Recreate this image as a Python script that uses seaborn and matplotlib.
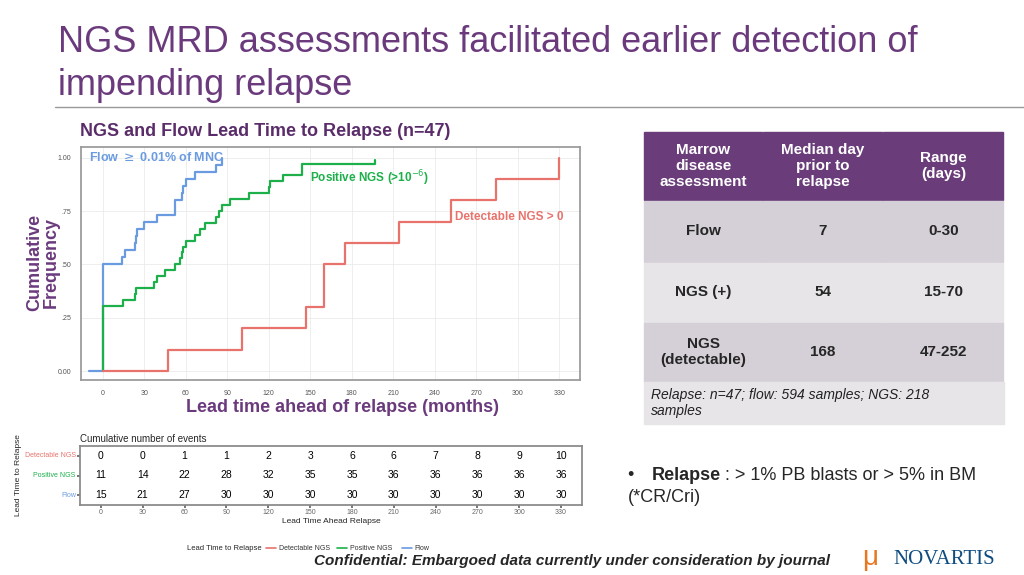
import numpy as np
import pandas as pd
import matplotlib.pyplot as plt
import seaborn as sns
from matplotlib.patches import Rectangle
from matplotlib.colors import ListedColormap

# step curves (lead time in days, cumulative frequency)
flow_x = [-10, 0, 0, 14, 16, 23, 24, 25, 30, 39, 52, 57, 58, 60, 67, 82, 86]
flow_y = [0, 0, 0.50, 0.533, 0.567, 0.60, 0.633, 0.667, 0.70, 0.733, 0.80, 0.833, 0.867, 0.90, 0.933, 0.967, 1.0]
pos_x = [0, 0, 15, 23, 24, 37, 39, 45, 52, 56, 57, 58, 60, 67, 70, 74, 82, 84, 86, 92, 106, 120, 121, 130, 144, 197, 197]
pos_y = [0, 0.306, 0.333, 0.361, 0.389, 0.417, 0.444, 0.472, 0.50, 0.528, 0.556, 0.583, 0.611, 0.639, 0.667,
         0.694, 0.722, 0.75, 0.778, 0.806, 0.833, 0.861, 0.889, 0.917, 0.972, 0.972, 0.99]
det_x = [0, 47, 101, 147, 160, 175, 214, 252, 284, 330, 330]
det_y = [0, 0.1, 0.2, 0.3, 0.5, 0.6, 0.7, 0.8, 0.9, 0.9, 1.0]

risk_times = [0, 30, 60, 90, 120, 150, 180, 210, 240, 270, 300, 330]
risk_groups = ['Detectable NGS', 'Positive NGS', 'Flow']
risk_det = [0, 0, 1, 1, 2, 3, 6, 6, 7, 8, 9, 10]
risk_pos = [11, 14, 22, 28, 32, 35, 35, 36, 36, 36, 36, 36]
risk_flow = [15, 21, 27, 30, 30, 30, 30, 30, 30, 30, 30, 30]

tbl_header = ['Marrow\ndisease\nassessment', 'Median day\nprior to\nrelapse', 'Range\n(days)']
tbl_rows = [['Flow', '7', '0-30'], ['NGS (+)', '54', '15-70'], ['NGS\n(detectable)', '168', '47-252']]

RED, GREEN, BLUE = '#E8736C', '#1DB04A', '#6A9BE0'
PURPLE = '#6B3A7D'

sns.set_theme(style='whitegrid')
plt.rcParams['font.family'] = ['Liberation Sans', 'DejaVu Sans']

W, H = 1024, 575
fig = plt.figure(figsize=(W / 100, H / 100), dpi=100)
fig.patch.set_facecolor('white')


def fx(px):
    return px / W


def fy(py):
    return 1 - py / H


fig.text(fx(58), fy(64), 'NGS MRD assessments facilitated earlier detection of\nimpending relapse',
         color=PURPLE, fontsize=26, va='center', linespacing=1.3)
fig.add_artist(plt.Line2D([fx(55), fx(1024)], [fy(107), fy(107)], color='#999999', lw=1))
fig.text(fx(80), fy(132), 'NGS and Flow Lead Time to Relapse (n=47)', color='#5A2D6A',
         fontsize=13, fontweight='bold', va='center')

# main step plot
ax = fig.add_axes([fx(81), fy(380), fx(580 - 81), (380 - 147) / H])
for xs, ys, c in [(flow_x, flow_y, BLUE), (pos_x, pos_y, GREEN), (det_x, det_y, RED)]:
    df = pd.DataFrame({'x': xs, 'y': ys})
    sns.lineplot(data=df, x='x', y='y', ax=ax, color=c, lw=1.6, estimator=None, sort=False,
                 drawstyle='steps-post')
ax.set_xlim(-15.7, 345)
ax.set_ylim(-0.042, 1.05)
ax.set_xticks(risk_times)
ax.set_yticks([0, 0.25, 0.5, 0.75, 1.0])
ax.set_yticklabels(['0.00', '.25', '.50', '.75', '1.00'])
ax.tick_params(labelsize=5, colors='#555555', pad=1)
ax.set_xlabel('')
ax.set_ylabel('')
for s in ax.spines.values():
    s.set_color('#999999')
ax.grid(color='#EBEBEB', lw=0.6)
ax.text(-10, 1.0, 'Flow $\\geq$ 0.01% of MNC', color=BLUE, fontsize=9, fontweight='bold', va='center')
ax.text(150, 0.905, 'Positive NGS (>10$^{-6}$)', color=GREEN, fontsize=8.5, fontweight='bold', va='center')
ax.text(255, 0.72, 'Detectable NGS > 0', color=RED, fontsize=8.5, fontweight='bold', va='center')

fig.text(fx(43), fy(262), 'Cumulative\nFrequency', color=PURPLE, fontsize=13, fontweight='bold',
         rotation=90, ha='center', va='center', linespacing=1.0)
fig.text(fx(343), fy(407), 'Lead time ahead of relapse (months)', color=PURPLE, fontsize=13,
         fontweight='bold', ha='center', va='center')

# risk table
ax2 = fig.add_axes([fx(80), fy(505), fx(582 - 80), (505 - 446) / H])
risk = pd.DataFrame([risk_det, risk_pos, risk_flow], index=risk_groups, columns=risk_times)
sns.heatmap(risk, ax=ax2, annot=True, fmt='d', cmap=ListedColormap(['white']),
            cbar=False, annot_kws={'fontsize': 7.5, 'color': 'black'}, linewidths=0,
            xticklabels=risk_times, yticklabels=risk_groups)
ax2.tick_params(labelsize=5, pad=1, length=2, left=True, bottom=True, colors='#666666')
ax2.set_yticklabels(risk_groups, rotation=0)
for lab, c in zip(ax2.get_yticklabels(), [RED, GREEN, BLUE]):
    lab.set_color(c)
for s in ax2.spines.values():
    s.set_visible(True)
    s.set_color('#888888')
ax2.set_xlabel('Lead Time Ahead Relapse', fontsize=6, labelpad=1)
ax2.set_ylabel('Lead Time to Relapse', fontsize=6, labelpad=2)
ax2.set_title('Cumulative number of events', fontsize=7, loc='left', pad=3)

# legend line
fig.text(fx(262), fy(548), 'Lead Time to Relapse', fontsize=5.5, ha='right', va='center')
lx = 266
for name, c in zip(risk_groups, [RED, GREEN, BLUE]):
    fig.add_artist(plt.Line2D([fx(lx), fx(lx + 10)], [fy(548), fy(548)], color=c, lw=1.2))
    fig.text(fx(lx + 13), fy(548), name, fontsize=5, va='center', color='#333333')
    lx += 13 + len(name) * 3.6 + 8

# right-hand summary table
cols = [644, 763, 883, 1004]
rows = [132, 200, 262, 322, 382]
for j in range(3):
    fig.add_artist(Rectangle((fx(cols[j]), fy(rows[1])), fx(cols[j + 1] - cols[j]) - 0.001,
                             (rows[1] - rows[0]) / H, color='#6A3D7A'))
    fig.text(fx((cols[j] + cols[j + 1]) / 2), fy((rows[0] + rows[1]) / 2), tbl_header[j],
             color='white', fontsize=11, fontweight='bold', ha='center', va='center', linespacing=1.2)
for i, row in enumerate(tbl_rows):
    shade = '#D5D0D7' if i % 2 == 0 else '#E8E5E9'
    for j in range(3):
        fig.add_artist(Rectangle((fx(cols[j]), fy(rows[i + 2])), fx(cols[j + 1] - cols[j]) - 0.001,
                                 (rows[i + 2] - rows[i + 1]) / H - 0.002, color=shade))
        fig.text(fx((cols[j] + cols[j + 1]) / 2), fy((rows[i + 1] + rows[i + 2]) / 2), row[j],
                 fontsize=11, fontweight='bold', ha='center', va='center', linespacing=1.2)
fig.add_artist(Rectangle((fx(644), fy(424)), fx(1004 - 644), (424 - 382) / H, color='#E8E5E9'))
fig.text(fx(651), fy(403), 'Relapse: n=47; flow: 594 samples; NGS: 218\nsamples', fontsize=10,
         style='italic', va='center', color='#222222')

fig.text(fx(628), fy(475), '•  ', fontsize=13, va='center')
fig.text(fx(652), fy(475), 'Relapse', fontsize=13, fontweight='bold', va='center')
fig.text(fx(725), fy(475), ': > 1% PB blasts or > 5% in BM', fontsize=13, va='center')
fig.text(fx(628), fy(498), '(*CR/Cri)', fontsize=13, va='center')

fig.text(fx(830), fy(561), 'Confidential: Embargoed data currently under consideration by journal',
         fontsize=11, fontweight='bold', style='italic', ha='right', va='center')
fig.text(fx(893), fy(560), 'NOVARTIS', fontsize=15, color='#0F4C81', va='center', family='Liberation Serif')
fig.text(fx(870), fy(558), '\u03bc', fontsize=20, color='#E87722', va='center', ha='center')

fig.savefig('out.png', dpi=100)
